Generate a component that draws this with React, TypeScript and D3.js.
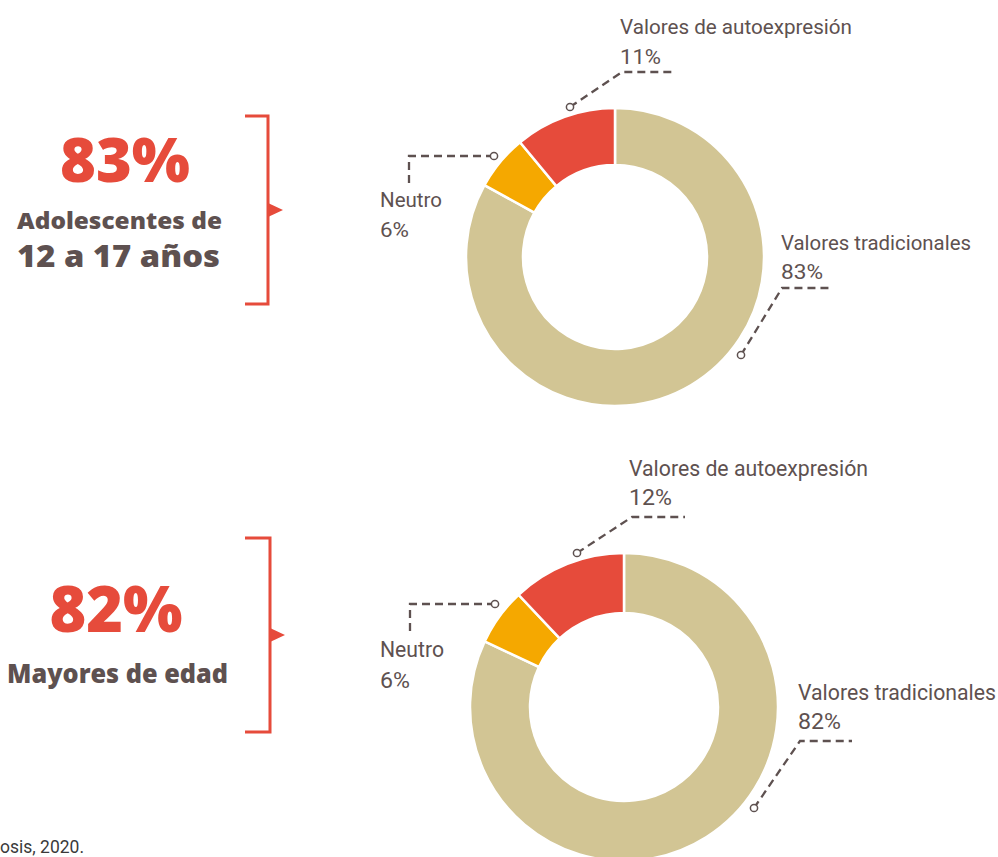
import React from "react";
import * as d3 from "d3";

const categories = ["Valores tradicionales", "Neutro", "Valores de autoexpresión"];
const teenValues = [83, 6, 11];
const adultValues = [82, 6, 12];
const headline = ["83%", "82%"];
const groupLabels = [["Adolescentes de", "12 a 17 años"], ["Mayores de edad"]];
const sourceText = "osis, 2020.";

const COLORS = ["#D2C594", "#F5A800", "#E64B3B"];
const RED = "#E64B3B";
const TXT = "#5E5150";

// layout per panel (relative to donut centre)
const panels = [
  {
    cx: 615, cy: 257, R: 149, r: 92, values: teenValues, fs: 21,
    ann: [
      { path: [[126, 98], [167, 31], [218, 31]], tx: 166, ty: [-7, 22], w: [190, 42] },
      { path: [[-121, -101], [-206, -101], [-206, -74]], tx: -235, ty: [-50, -20], w: [62, 29] },
      { path: [[-45, -150], [7, -185], [58, -185]], tx: 5, ty: [-223, -193], w: [232, 41] },
    ],
    left: { big: 0, bigY: 182, bigX: 125, bigW: 130, bigFs: 62,
      lines: [{ y: 229, x0: 17, w: 205, fs: 23 }, { y: 267, x0: 17, w: 203, fs: 30 }] },
    bracket: { x: 268, y0: 116, y1: 304, xl: 245, ya: 210 },
  },
  {
    cx: 624, cy: 707, R: 154, r: 94, values: adultValues, fs: 21.5,
    ann: [
      { path: [[130, 101], [176, 34], [228, 34]], tx: 174, ty: [-7, 22], w: [198, 43] },
      { path: [[-129, -103], [-214, -103], [-214, -75]], tx: -244, ty: [-50, -19], w: [64, 30] },
      { path: [[-47, -154], [8, -190], [61, -190]], tx: 5, ty: [-231, -202], w: [239, 43] },
    ],
    left: { big: 1, bigY: 632, bigX: 116, bigW: 133, bigFs: 63,
      lines: [{ y: 683, x0: 7, w: 221, fs: 26 }] },
    bracket: { x: 270, y0: 538, y1: 732, xl: 245, ya: 635 },
  },
];

const pie = d3.pie<number>().sort(null).value((d) => d);

export default function App() {
  return (
    <svg width={998} height={857} style={{ position: "absolute", left: 0, top: 0 }}>
      <rect width={998} height={857} fill="#fff" />
      {panels.map((p, pi) => {
        const arc = d3.arc<d3.PieArcDatum<number>>().innerRadius(p.r).outerRadius(p.R);
        const arcs = pie(p.values);
        const b = p.bracket;
        return (
          <g key={pi}>
            <g transform={`translate(${p.cx},${p.cy})`}>
              {arcs.map((a, i) => (
                <path key={i} d={arc(a) || ""} fill={COLORS[i]} stroke="#fff" strokeWidth={2.5} />
              ))}
              {p.ann.map((an, i) => {
                const line = d3.line()(an.path as [number, number][]) || "";
                const [c] = an.path;
                return (
                  <g key={i}>
                    <path d={line} fill="none" stroke={TXT} strokeWidth={2.3} strokeDasharray="8 5" />
                    <circle cx={c[0]} cy={c[1]} r={3.6} fill="#fff" stroke={TXT} strokeWidth={1.5} />
                    <text x={an.tx} y={an.ty[0]} fontFamily="Liberation Sans Narrow, Roboto, sans-serif" fontSize={p.fs} fill={TXT}
                      textLength={an.w[0]} lengthAdjust="spacingAndGlyphs">{categories[i]}</text>
                    <text x={an.tx} y={an.ty[1]} fontFamily="Liberation Sans Narrow, Roboto, sans-serif" fontSize={p.fs} fill={TXT}
                      textLength={an.w[1]} lengthAdjust="spacingAndGlyphs">{p.values[i] + "%"}</text>
                  </g>
                );
              })}
            </g>
            <text x={p.left.bigX} y={p.left.bigY} textAnchor="middle" fontFamily="Open Sans, sans-serif" fontWeight={800}
              fontSize={p.left.bigFs} fill={RED} textLength={p.left.bigW} lengthAdjust="spacingAndGlyphs">{headline[p.left.big]}</text>
            {p.left.lines.map((l, i) => (
              <text key={i} x={l.x0} y={l.y} fontFamily="Open Sans, sans-serif" fontWeight={800} fontSize={l.fs} fill={TXT}
                textLength={l.w} lengthAdjust="spacingAndGlyphs">{groupLabels[pi][i]}</text>
            ))}
            <path d={`M${b.xl},${b.y0}H${b.x}V${b.y1}H${b.xl}`} fill="none" stroke={RED} strokeWidth={3} />
            <path d={`M${b.x},${b.ya - 7}L${b.x + 15},${b.ya}L${b.x},${b.ya + 7}Z`} fill={RED} />
          </g>
        );
      })}
      <text x={0} y={853} fontFamily="Liberation Sans Narrow, Roboto, sans-serif" fontSize={18} fill="#3a3a3a"
        textLength={84} lengthAdjust="spacingAndGlyphs">{sourceText}</text>
    </svg>
  );
}
